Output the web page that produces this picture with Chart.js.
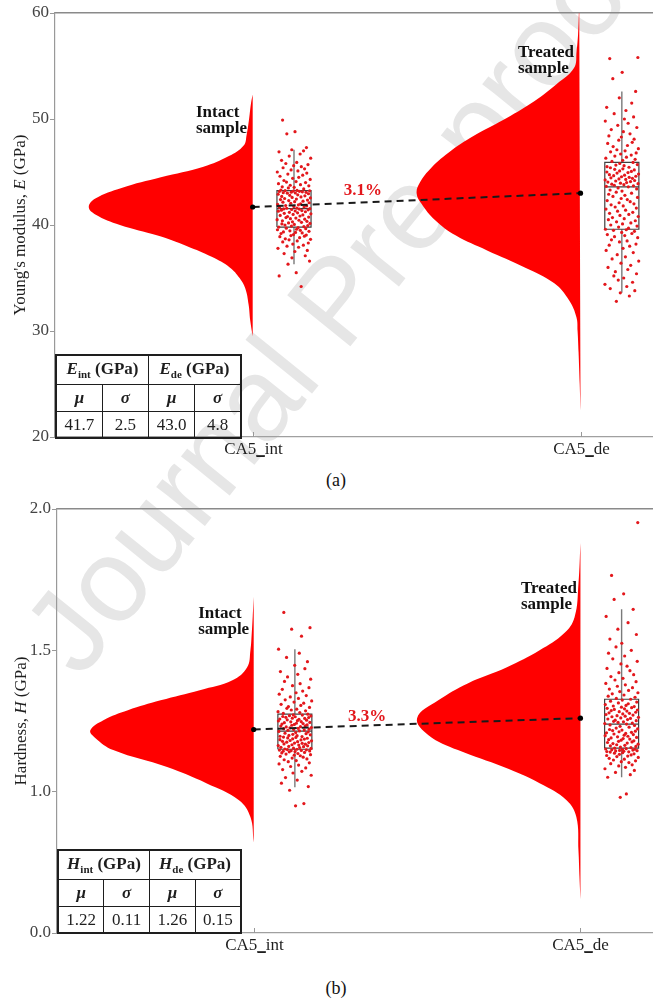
<!DOCTYPE html>
<html>
<head>
<meta charset="utf-8">
<title>CA5 modulus and hardness</title>
<script src="https://cdn.jsdelivr.net/npm/chart.js@4.4.1/dist/chart.umd.min.js"></script>
<style>
    html, body {
        margin: 0;
        padding: 0;
        background: #ffffff;
    }
    body {
        position: relative;
        width: 656px;
        height: 999px;
        overflow: hidden;
        font-family: "Liberation Serif", "Times New Roman", serif;
    }
    .watermark {
        position: absolute;
        left: 335px;
        top: 300px;
        transform: translate(-50%, -50%) rotate(-51deg);
        font-family: "Liberation Sans", Arial, sans-serif;
        font-size: 118px;
        color: #e6e6e6;
        white-space: nowrap;
        z-index: 0;
    }
    canvas {
        position: absolute;
        left: 0;
        z-index: 1;
    }
    #chartA { top: 0; }
    #chartB { top: 496px; }
    .stats {
        position: absolute;
        z-index: 2;
        border-collapse: collapse;
        border: 2px solid #1e1e1e;
        font-size: 17px;
        color: #1e1e1e;
        table-layout: fixed;
    }
    .stats td {
        border: 1.5px solid #1e1e1e;
        text-align: center;
        padding: 0;
        line-height: 1;
    }
    .stats tr.head td { font-weight: bold; }
    .stats tr.sym td { font-weight: bold; font-style: italic; }
    .stats sub { font-size: 11px; }
    .caption {
        position: absolute;
        left: 336px;
        transform: translate(-50%, -50%);
        font-size: 18px;
        color: #111;
        z-index: 2;
    }
</style>
</head>
<body>

<div class="watermark">Journal Pre-proof</div>

<canvas id="chartA" width="656" height="462"></canvas>
<canvas id="chartB" width="656" height="462"></canvas>

<table class="stats" id="tableE" style="left:55px; top:354px; width:187px; height:83px;"></table>
<table class="stats" id="tableH" style="left:57px; top:849px; width:185px; height:84px;"></table>

<div class="caption" style="top:480px;">(a)</div>
<div class="caption" style="top:988px;">(b)</div>

<script>
Chart.defaults.font.family = "'Liberation Serif', 'Times New Roman', serif";
Chart.defaults.animation = false;
Chart.defaults.elements.line.tension = 0;

const categories = ["CA5_int", "CA5_de"];
const xTickValues = [1, 2];

const eTicks = [20, 30, 40, 50, 60];
const eTickLabels = ["20", "30", "40", "50", "60"];
const hTicks = [0.5, 1.0, 1.5, 2.0];
const hTickLabels = ["0.0", "1.0", "1.5", "2.0"];

// mean and standard deviation, intact then treated
const eMean = [41.7, 43.0];
const eStd = [2.5, 4.8];
const hMean = [1.22, 1.26];
const hStd = [0.11, 0.15];

// box summaries: [lower whisker, Q1, median, Q3, upper whisker]
const eIntBox = [36.3, 39.8, 41.55, 43.25, 47.1];
const eDeBox = [33.6, 39.6, 43.6, 45.9, 52.6];
const hIntBox = [1.016, 1.150, 1.214, 1.274, 1.504];
const hDeBox = [1.051, 1.154, 1.239, 1.327, 1.645];

// half-violin outlines: value and relative density (1 = widest)
const eIntViolinY = [29.5, 31.0, 32.5, 34.0, 35.0, 36.0, 37.0, 38.0, 39.0, 40.0, 41.0, 41.7, 42.5, 43.5, 44.5, 45.5, 46.5, 47.5, 48.5, 50.0, 51.5, 52.3];
const eIntViolinW = [0, 0.015, 0.025, 0.045, 0.08, 0.14, 0.25, 0.40, 0.58, 0.81, 0.96, 1.0, 0.96, 0.80, 0.56, 0.30, 0.145, 0.055, 0.037, 0.022, 0.01, 0];
const eDeViolinY = [22.5, 25.0, 28.0, 30.0, 31.3, 32.9, 34.5, 36.0, 37.6, 39.0, 40.5, 42.0, 43.0, 44.0, 45.4, 47.0, 48.6, 50.1, 51.7, 53.3, 54.8, 56.4, 58.0, 60.0, 61.0];
const eDeViolinW = [0, 0.005, 0.012, 0.018, 0.025, 0.07, 0.16, 0.34, 0.57, 0.76, 0.89, 0.97, 1.0, 0.98, 0.91, 0.79, 0.63, 0.45, 0.28, 0.145, 0.04, 0.024, 0.015, 0.01, 0.008];
const hIntViolinY = [0.82, 0.91, 0.97, 1.03, 1.087, 1.147, 1.19, 1.217, 1.253, 1.288, 1.323, 1.359, 1.394, 1.44, 1.50, 1.56, 1.62, 1.69];
const hIntViolinW = [0, 0.02, 0.09, 0.29, 0.53, 0.86, 0.97, 1.0, 0.92, 0.77, 0.57, 0.33, 0.13, 0.04, 0.02, 0.012, 0.006, 0];
const hDeViolinY = [0.62, 0.70, 0.79, 0.91, 0.97, 1.03, 1.087, 1.147, 1.20, 1.26, 1.323, 1.383, 1.44, 1.50, 1.56, 1.617, 1.737, 1.88];
const hDeViolinW = [0, 0.006, 0.012, 0.025, 0.085, 0.25, 0.47, 0.75, 0.93, 1.0, 0.87, 0.69, 0.45, 0.25, 0.10, 0.036, 0.012, 0];

// individual indentation results
const eIntPoints = [
    34.2, 35.2, 35.5, 36.3, 36.6, 36.9, 37.1, 37.3, 37.5, 37.6,
    37.8, 37.9, 38.0, 38.1, 38.2, 38.3, 38.4, 38.5, 38.6, 38.65,
    38.7, 38.8, 38.9, 38.95, 39.0, 39.05, 39.1, 39.2, 39.25, 39.3,
    39.35, 39.4, 39.45, 39.5, 39.55, 39.6, 39.65, 39.7, 39.75, 39.8,
    39.85, 39.9, 39.95, 40.0, 40.05, 40.1, 40.15, 40.2, 40.25, 40.3,
    40.35, 40.4, 40.45, 40.5, 40.55, 40.6, 40.65, 40.7, 40.75, 40.8,
    40.85, 40.9, 40.95, 41.0, 41.05, 41.1, 41.15, 41.2, 41.25, 41.3,
    41.32, 41.36, 41.4, 41.43, 41.46, 41.5, 41.52, 41.54, 41.58, 41.6,
    41.65, 41.7, 41.74, 41.8, 41.84, 41.9, 41.94, 42.0, 42.05, 42.1,
    42.15, 42.2, 42.25, 42.3, 42.35, 42.4, 42.45, 42.5, 42.55, 42.6,
    42.65, 42.7, 42.75, 42.8, 42.85, 42.9, 42.95, 43.0, 43.02, 43.05,
    43.08, 43.1, 43.13, 43.16, 43.18, 43.2, 43.22, 43.24, 43.26, 43.3,
    43.4, 43.5, 43.55, 43.6, 43.7, 43.75, 43.8, 43.9, 44.0, 44.05,
    44.1, 44.2, 44.3, 44.4, 44.5, 44.6, 44.7, 44.8, 44.9, 45.0,
    45.1, 45.2, 45.3, 45.4, 45.5, 45.6, 45.7, 45.8, 45.9, 46.1,
    46.3, 46.5, 46.7, 46.9, 47.0, 47.1, 47.3, 48.6, 48.8, 49.9
];
const eDePoints = [
    32.8, 33.3, 33.6, 33.8, 34.0, 34.2, 34.4, 34.6, 34.8, 35.0,
    35.2, 35.4, 35.6, 35.8, 36.0, 36.2, 36.4, 36.6, 36.8, 37.0,
    37.2, 37.4, 37.6, 37.8, 38.0, 38.1, 38.2, 38.4, 38.5, 38.6,
    38.8, 38.9, 39.0, 39.1, 39.2, 39.3, 39.4, 39.5, 39.55, 39.6,
    39.7, 39.8, 39.9, 40.0, 40.1, 40.2, 40.3, 40.4, 40.5, 40.6,
    40.7, 40.8, 40.9, 41.0, 41.1, 41.2, 41.3, 41.4, 41.5, 41.6,
    41.7, 41.8, 41.9, 42.0, 42.1, 42.2, 42.3, 42.4, 42.5, 42.6,
    42.7, 42.8, 42.9, 43.0, 43.1, 43.2, 43.3, 43.4, 43.5, 43.6,
    43.65, 43.7, 43.75, 43.8, 43.85, 43.9, 43.95, 44.0, 44.05, 44.1,
    44.15, 44.2, 44.25, 44.3, 44.35, 44.4, 44.45, 44.5, 44.55, 44.6,
    44.65, 44.7, 44.75, 44.8, 44.9, 44.95, 45.0, 45.05, 45.1, 45.2,
    45.25, 45.3, 45.4, 45.45, 45.5, 45.6, 45.65, 45.7, 45.8, 45.9,
    46.0, 46.1, 46.2, 46.3, 46.4, 46.5, 46.6, 46.7, 46.8, 46.9,
    47.0, 47.1, 47.2, 47.4, 47.5, 47.7, 47.8, 48.0, 48.1, 48.3,
    48.4, 48.6, 48.8, 49.0, 49.2, 49.4, 49.6, 49.8, 50.0, 50.2,
    50.5, 50.8, 51.1, 51.5, 52.0, 52.6, 53.8, 54.4, 55.7, 55.8
];
const hIntPoints = [
    0.950, 0.958, 1.005, 1.018, 1.030, 1.041, 1.050, 1.058, 1.066, 1.072,
    1.078, 1.084, 1.089, 1.094, 1.098, 1.102, 1.106, 1.110, 1.113, 1.116,
    1.119, 1.122, 1.125, 1.127, 1.129, 1.131, 1.133, 1.135, 1.137, 1.139,
    1.141, 1.142, 1.143, 1.144, 1.145, 1.146, 1.147, 1.148, 1.149, 1.150,
    1.151, 1.153, 1.154, 1.156, 1.157, 1.159, 1.160, 1.162, 1.163, 1.165,
    1.166, 1.168, 1.169, 1.171, 1.172, 1.174, 1.175, 1.177, 1.178, 1.180,
    1.181, 1.183, 1.184, 1.186, 1.187, 1.189, 1.190, 1.192, 1.193, 1.195,
    1.196, 1.198, 1.199, 1.201, 1.203, 1.205, 1.207, 1.209, 1.211, 1.213,
    1.215, 1.217, 1.218, 1.220, 1.221, 1.223, 1.224, 1.226, 1.227, 1.229,
    1.230, 1.232, 1.233, 1.235, 1.236, 1.238, 1.239, 1.241, 1.242, 1.244,
    1.245, 1.247, 1.248, 1.250, 1.251, 1.253, 1.254, 1.256, 1.257, 1.259,
    1.260, 1.262, 1.263, 1.265, 1.266, 1.268, 1.269, 1.271, 1.272, 1.274,
    1.277, 1.280, 1.283, 1.286, 1.289, 1.292, 1.295, 1.298, 1.301, 1.305,
    1.309, 1.313, 1.317, 1.321, 1.325, 1.330, 1.335, 1.340, 1.345, 1.350,
    1.356, 1.362, 1.368, 1.375, 1.382, 1.390, 1.398, 1.406, 1.415, 1.425,
    1.435, 1.447, 1.460, 1.475, 1.490, 1.504, 1.550, 1.575, 1.580, 1.634
];
const hDePoints = [
    0.980, 0.992, 1.051, 1.060, 1.068, 1.075, 1.081, 1.086, 1.091, 1.095,
    1.099, 1.103, 1.106, 1.109, 1.112, 1.115, 1.118, 1.121, 1.124, 1.126,
    1.128, 1.130, 1.132, 1.134, 1.136, 1.138, 1.140, 1.141, 1.142, 1.143,
    1.144, 1.145, 1.146, 1.147, 1.148, 1.149, 1.150, 1.151, 1.152, 1.154,
    1.156, 1.158, 1.160, 1.162, 1.164, 1.166, 1.168, 1.170, 1.172, 1.174,
    1.176, 1.178, 1.180, 1.182, 1.184, 1.186, 1.188, 1.190, 1.192, 1.194,
    1.196, 1.198, 1.200, 1.202, 1.204, 1.206, 1.208, 1.210, 1.212, 1.214,
    1.216, 1.218, 1.220, 1.222, 1.225, 1.228, 1.231, 1.234, 1.236, 1.239,
    1.241, 1.243, 1.245, 1.247, 1.249, 1.251, 1.253, 1.255, 1.257, 1.259,
    1.261, 1.263, 1.265, 1.267, 1.269, 1.271, 1.273, 1.275, 1.277, 1.279,
    1.281, 1.283, 1.285, 1.287, 1.289, 1.291, 1.293, 1.295, 1.297, 1.299,
    1.301, 1.303, 1.305, 1.308, 1.311, 1.314, 1.317, 1.320, 1.324, 1.327,
    1.330, 1.334, 1.338, 1.342, 1.346, 1.350, 1.354, 1.358, 1.363, 1.368,
    1.373, 1.378, 1.383, 1.389, 1.395, 1.401, 1.407, 1.414, 1.421, 1.428,
    1.436, 1.444, 1.452, 1.461, 1.470, 1.480, 1.490, 1.500, 1.512, 1.525,
    1.540, 1.556, 1.575, 1.598, 1.620, 1.645, 1.680, 1.700, 1.765, 1.952
];

// horizontal scatter of the dots inside the box, -1..1
const jitter = [
    0.42, -0.87, 0.13, -0.35, 0.91, -0.12, 0.66, -0.58, 0.05, 0.78,
    -0.94, 0.27, -0.41, 0.55, -0.07, 0.84, -0.66, 0.19, -0.29, 0.97,
    -0.51, 0.33, -0.83, 0.61, -0.18, 0.72, -0.03, -0.76, 0.48, 0.09,
    -0.62, 0.88, -0.24, 0.37, -0.97, 0.15, 0.69, -0.45, 0.24, -0.89,
    0.58, -0.15, 0.81, -0.53, 0.02, -0.71, 0.94, -0.32, 0.44, -0.09,
    0.76, -0.68, 0.29, -0.99, 0.63, -0.21, 0.11, -0.47, 0.86, -0.38,
    0.35, -0.81, 0.52, -0.05, 0.99, -0.57, 0.21, -0.27, 0.67, -0.92,
    0.07, 0.46, -0.74, 0.83, -0.14, 0.31, -0.61, 0.93, -0.43, 0.17,
    -0.85, 0.59, -0.01, 0.74, -0.49, 0.26, -0.96, 0.39, -0.19, 0.89,
    -0.65, 0.04, 0.53, -0.31, 0.79, -0.79, 0.14, -0.55, 0.96, -0.11,
    0.41, -0.72, 0.64, -0.25, 0.22, -0.93, 0.85, -0.39, 0.08, -0.63,
    0.71, -0.16, 0.49, -0.86, 0.32, -0.04, 0.92, -0.52, 0.18, -0.77,
    0.57, -0.33, 0.01, -0.69, 0.87, -0.22, 0.38, -0.91, 0.68, -0.44,
    0.12, -0.59, 0.95, -0.08, 0.28, -0.82, 0.51, -0.36, 0.75, -0.98,
    0.23, -0.17, 0.62, -0.64, 0.43, -0.02, 0.82, -0.48, 0.16, -0.73,
    0.98, -0.28, 0.36, -0.88, 0.56, -0.13, 0.73, -0.42, 0.06, -0.67
];

const VIOLIN_HALF = 0.5;
const BOX_OFFSET = 0.126;
const BOX_HALF = 0.052;
const JITTER_HALF = 0.052;

const RED = "#ff0000";
const DOT_RED = "#e3171c";
const SERIF = "'Liberation Serif', 'Times New Roman', serif";

// inward category ticks, category names, rotated axis title, sample notes and the change label
const panelDecor = {
    id: "panelDecor",
    afterDraw(chart, args, opts) {
        const ctx = chart.ctx;
        const xs = chart.scales.x;
        const ys = chart.scales.y;
        const area = chart.chartArea;

        ctx.save();

        ctx.strokeStyle = "#999999";
        ctx.lineWidth = 1;
        ctx.font = "17px " + SERIF;
        ctx.fillStyle = "#1e1e1e";
        ctx.textAlign = "center";
        ctx.textBaseline = "alphabetic";
        xTickValues.forEach((v, i) => {
            const px = Math.round(xs.getPixelForValue(v)) + 0.5;
            ctx.beginPath();
            ctx.moveTo(px, area.bottom);
            ctx.lineTo(px, area.bottom - 5);
            ctx.stroke();
            ctx.fillText(categories[i], px, area.bottom + 17);
            // underscore drawn as a rule so it stays visible at this size
            const full = ctx.measureText(categories[i]).width;
            const cut = categories[i].indexOf("_");
            const before = ctx.measureText(categories[i].slice(0, cut)).width;
            const us = ctx.measureText("_").width;
            const x0 = px - full / 2 + before;
            ctx.fillRect(x0, area.bottom + 19, us, 1);
        });

        // y title made of plain and italic pieces
        ctx.textBaseline = "middle";
        ctx.textAlign = "left";
        const pieces = opts.title.map(([text, style]) => {
            ctx.font = style + "17px " + SERIF;
            return { text, style, w: ctx.measureText(text).width };
        });
        const total = pieces.reduce((s, p) => s + p.w, 0);
        ctx.translate(opts.titleX, (area.top + area.bottom) / 2);
        ctx.rotate(-Math.PI / 2);
        let cursor = -total / 2;
        pieces.forEach(p => {
            ctx.font = p.style + "17px " + SERIF;
            ctx.fillText(p.text, cursor, 0);
            cursor += p.w;
        });
        ctx.setTransform(1, 0, 0, 1, 0, 0);

        ctx.font = "bold 17px " + SERIF;
        ctx.fillStyle = "#111111";
        ctx.textAlign = "left";
        opts.notes.forEach(n => {
            const px = xs.getPixelForValue(n.x);
            const py = ys.getPixelForValue(n.y);
            n.lines.forEach((t, i) => ctx.fillText(t, px, py + i * 16));
        });

        ctx.fillStyle = DOT_RED;
        ctx.textAlign = "center";
        ctx.fillText(opts.changeText, xs.getPixelForValue(opts.changeAt[0]), ys.getPixelForValue(opts.changeAt[1]));

        ctx.restore();
    }
};

function boxOutline(cx, b) {
    const l = cx - BOX_HALF, r = cx + BOX_HALF;
    return [
        { x: l, y: b[1] }, { x: r, y: b[1] }, { x: r, y: b[3] }, { x: l, y: b[3] }, { x: l, y: b[1] },
        { x: cx, y: null },
        { x: l, y: b[2] }, { x: r, y: b[2] }
    ];
}

function whiskers(cx, b) {
    return [
        { x: cx, y: b[3] }, { x: cx, y: b[4] },
        { x: cx, y: null },
        { x: cx, y: b[0] }, { x: cx, y: b[1] }
    ];
}

function buildPanel(canvasId, p) {
    const datasets = [];

    p.groups.forEach((g, k) => {
        const cx = xTickValues[k];
        const bx = cx + BOX_OFFSET;

        datasets.push({
            data: g.violinY.map((v, i) => ({ x: cx - g.violinW[i] * VIOLIN_HALF, y: v })),
            tension: 0.4,
            fill: "shape",
            backgroundColor: RED,
            borderColor: RED,
            borderWidth: 0,
            pointRadius: 0,
            order: 6
        });

        datasets.push({
            data: whiskers(bx, g.box),
            borderColor: "#7a7a7a",
            borderWidth: 1.4,
            pointRadius: 0,
            spanGaps: false,
            order: 4
        });

        datasets.push({
            data: boxOutline(bx, g.box),
            borderColor: "#404040",
            borderWidth: 1.2,
            pointRadius: 0,
            spanGaps: false,
            order: 3
        });

        datasets.push({
            data: g.points.map((v, i) => ({ x: bx + jitter[(i + g.shift) % jitter.length] * JITTER_HALF, y: v })),
            showLine: false,
            pointRadius: 1.6,
            pointBackgroundColor: DOT_RED,
            pointBorderWidth: 0,
            order: 2
        });
    });

    datasets.push({
        data: p.means.map((m, k) => ({ x: xTickValues[k], y: m })),
        borderColor: "#1a1a1a",
        borderWidth: 2,
        borderDash: [7, 5],
        pointRadius: 2.6,
        pointBackgroundColor: "#000000",
        pointBorderWidth: 0,
        order: 0
    });

    const change = ((p.means[1] / p.means[0] - 1) * 100).toFixed(1) + "%";

    return new Chart(document.getElementById(canvasId), {
        type: "line",
        data: { datasets },
        options: {
            responsive: false,
            animation: false,
            layout: { padding: 0 },
            plugins: {
                legend: { display: false },
                tooltip: { enabled: false },
                panelDecor: {
                    title: p.title,
                    titleX: p.titleX,
                    notes: p.notes,
                    changeText: change,
                    changeAt: p.changeAt
                }
            },
            scales: {
                x: {
                    type: "linear",
                    position: "bottom",
                    min: p.xMin,
                    max: p.xMax,
                    grid: { display: false },
                    border: { color: "#a0a0a0", width: 1.2 },
                    afterBuildTicks: s => { s.ticks = xTickValues.map(v => ({ value: v })); },
                    ticks: { display: false },
                    afterFit: s => { s.height = 25; }
                },
                x2: {
                    type: "linear",
                    position: "top",
                    grid: { display: false },
                    ticks: { display: false },
                    border: { color: "#8a8a8a", width: 1.6 },
                    afterFit: s => { s.height = 13; }
                },
                y: {
                    type: "linear",
                    min: p.yTicks[0],
                    max: p.yTicks[p.yTicks.length - 1],
                    grid: { drawOnChartArea: false, tickLength: 5, color: "#999999" },
                    border: { color: "#999999", width: 1.2 },
                    afterBuildTicks: s => { s.ticks = p.yTicks.map(v => ({ value: v })); },
                    ticks: {
                        color: "#444444",
                        font: { size: 17 },
                        padding: 1,
                        callback: (v, i) => p.yTickLabels[i]
                    },
                    afterFit: s => { s.width = p.left; }
                }
            }
        },
        plugins: [panelDecor]
    });
}

function fillTable(id, sym, means, sds, digits) {
    const t = document.getElementById(id);
    const num = v => v.toFixed(digits);
    t.innerHTML =
        `<tr class="head" style="height:29px"><td colspan="2"><i>${sym}</i><sub>int</sub> (GPa)</td><td colspan="2"><i>${sym}</i><sub>de</sub> (GPa)</td></tr>` +
        `<tr class="sym" style="height:27px"><td>μ</td><td>σ</td><td>μ</td><td>σ</td></tr>` +
        `<tr style="height:27px"><td>${num(means[0])}</td><td>${num(sds[0])}</td><td>${num(means[1])}</td><td>${num(sds[1])}</td></tr>`;
}

buildPanel("chartA", {
    left: 55,
    xMin: 0.397,
    xMax: 2.218,
    yTicks: eTicks,
    yTickLabels: eTickLabels,
    means: eMean,
    title: [["Young's modulus, ", ""], ["E", "italic "], [" (GPa)", ""]],
    titleX: 21,
    notes: [
        { lines: ["Intact", "sample"], x: 0.827, y: 50.6 },
        { lines: ["Treated", "sample"], x: 1.809, y: 56.3 }
    ],
    changeAt: [1.336, 43.25],
    groups: [
        { violinY: eIntViolinY, violinW: eIntViolinW, box: eIntBox, points: eIntPoints, shift: 0 },
        { violinY: eDeViolinY, violinW: eDeViolinW, box: eDeBox, points: eDePoints, shift: 47 }
    ]
});

buildPanel("chartB", {
    left: 57,
    xMin: 0.398,
    xMax: 2.219,
    yTicks: hTicks,
    yTickLabels: hTickLabels,
    means: hMean,
    title: [["Hardness, ", ""], ["H", "italic "], [" (GPa)", ""]],
    titleX: 22,
    notes: [
        { lines: ["Intact", "sample"], x: 0.83, y: 1.631 },
        { lines: ["Treated", "sample"], x: 1.818, y: 1.719 }
    ],
    changeAt: [1.347, 1.267],
    groups: [
        { violinY: hIntViolinY, violinW: hIntViolinW, box: hIntBox, points: hIntPoints, shift: 91 },
        { violinY: hDeViolinY, violinW: hDeViolinW, box: hDeBox, points: hDePoints, shift: 133 }
    ]
});

fillTable("tableE", "E", eMean, eStd, 1);
fillTable("tableH", "H", hMean, hStd, 2);
</script>
</body>
</html>
